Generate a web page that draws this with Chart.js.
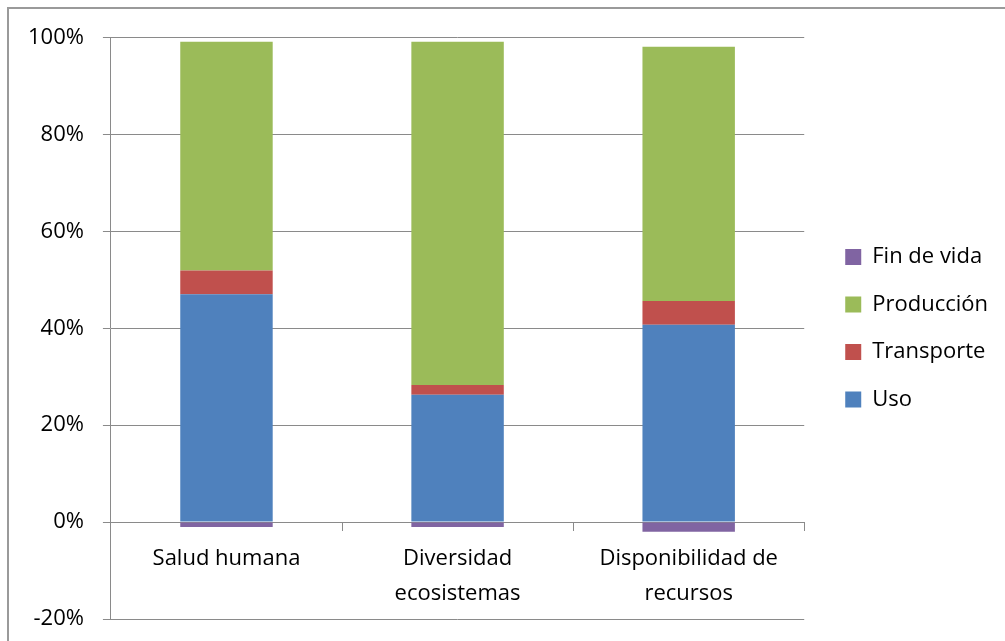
<!DOCTYPE html>
<html>
<head>
<meta charset="utf-8">
<script src="https://cdn.jsdelivr.net/npm/chart.js@4/dist/chart.umd.min.js"></script>
<style>
  html, body { margin: 0; padding: 0; background: #fff; overflow: hidden; }
  #wrap { position: relative; width: 1005px; height: 641px; }
  #marco { position: absolute; left: 7px; top: 7px; width: 1100px; height: 700px;
           border: 2px solid #9a9a9a; pointer-events: none; }
</style>
</head>
<body>
<div id="wrap">
  <canvas id="grafico" width="1005" height="641"></canvas>
  <div id="marco"></div>
</div>
<script>
const categorias = ['Salud humana', ['Diversidad', 'ecosistemas'], ['Disponibilidad de', 'recursos']];
const uso = [47.0, 26.3, 40.7];
const transporte = [4.9, 2.0, 4.9];
const produccion = [47.2, 70.8, 52.5];
const finDeVida = [-1.0, -1.0, -2.0];
const ticksY = [-20, 0, 20, 40, 60, 80, 100];

const gris = '#8a8a8a';
const fuente = { family: "'Open Sans'", size: 22 };

document.addEventListener("DOMContentLoaded", function () {
    const ctx = document.getElementById('grafico').getContext('2d');

    const datos = {
        labels: categorias,
        datasets: [
            { label: 'Uso', data: uso, backgroundColor: '#4F81BD' },
            { label: 'Transporte', data: transporte, backgroundColor: '#C0504D' },
            { label: 'Producción', data: produccion, backgroundColor: '#9BBB59' },
            { label: 'Fin de vida', data: finDeVida, backgroundColor: '#8064A2' }
        ]
    };

    new Chart(ctx, {
        type: 'bar',
        data: datos,
        options: {
            responsive: false,
            animation: false,
            barPercentage: 0.4,
            categoryPercentage: 1.0,
            layout: { padding: { left: 9, top: 37.5, bottom: 22, right: 7 } },
            plugins: {
                tooltip: { enabled: false },
                legend: {
                    position: 'right',
                    fullSize: false,
                    reverse: true,
                    labels: {
                        color: '#000',
                        font: fuente,
                        boxWidth: 16,
                        boxHeight: 16,
                        padding: 25.5
                    }
                }
            },
            scales: {
                x: {
                    stacked: true,
                    position: { y: 0 },
                    grid: {
                        offset: true,
                        drawOnChartArea: false,
                        drawTicks: true,
                        tickLength: 8,
                        color: gris
                    },
                    border: { display: true, color: gris, width: 1 },
                    ticks: { color: '#000', font: { ...fuente, lineHeight: 1.6 }, padding: 11, maxRotation: 0 }
                },
                y: {
                    stacked: true,
                    min: -20,
                    max: 100,
                    afterBuildTicks: function (s) { s.ticks = ticksY.map(v => ({ value: v })); },
                    afterFit: function (s) { s.paddingTop = 0; s.paddingBottom = 0; },
                    grid: { color: gris, tickLength: 8 },
                    border: { display: true, color: gris, width: 1 },
                    ticks: {
                        color: '#000',
                        font: fuente,
                        padding: 19,
                        callback: v => v + '%'
                    }
                },
                hueco: {
                    type: 'linear',
                    position: 'right',
                    display: false,
                    afterFit: function (s) { s.width = 15.5; }
                }
            }
        }
    });
});
</script>
</body>
</html>
